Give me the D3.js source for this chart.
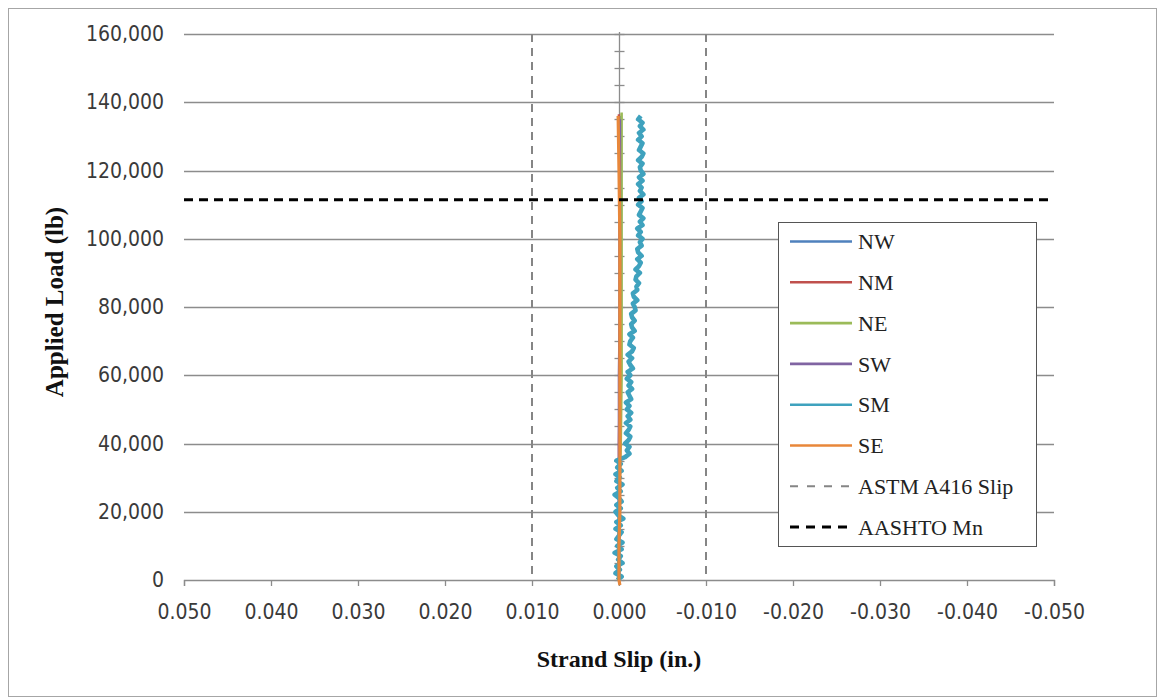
<!DOCTYPE html>
<html>
<head>
<meta charset="utf-8">
<script src="https://cdn.jsdelivr.net/npm/d3@7"></script>
<style>
  html, body { margin: 0; padding: 0; background: #fff; }
  svg { display: block; }
</style>
</head>
<body>
<svg id="chart" width="1160" height="698"></svg>
<script>
// ---------------- DATA ----------------
const seriesNames = ["NW", "NM", "NE", "SW", "SM", "SE"];
const seriesColors = ["#4F81BD", "#C0504D", "#9BBB59", "#8064A2", "#3FA2BE", "#E8873A"];

const loadNW = [0, 20000, 40000, 60000, 80000, 100000, 120000, 136000];
const slipNW = [0.0000, 0.0000, -0.0001, -0.0001, -0.0001, -0.0001, -0.0001, -0.0001];

const loadNM = [0, 20000, 40000, 60000, 80000, 100000, 120000, 136500];
const slipNM = [0.0000, 0.0000, 0.0000, -0.0001, -0.0001, -0.0001, -0.0001, 0.0000];

const loadNE = [0, 20000, 40000, 60000, 80000, 100000, 120000, 137000];
const slipNE = [0.0001, 0.0000, -0.0002, -0.0003, -0.0003, -0.0003, -0.0003, -0.0003];

const loadSW = [0, 20000, 40000, 60000, 80000, 100000, 120000, 135000];
const slipSW = [0.0000, 0.0000, 0.0000, 0.0000, -0.0001, -0.0001, -0.0001, -0.0001];

const loadSM = [
  0, 1000, 2000, 3000, 4000, 5000, 6000, 7000, 8000, 9000,
  10000, 11000, 12000, 13000, 14000, 15000, 16000, 17000, 18000, 19000,
  20000, 21000, 22000, 23000, 24000, 25000, 26000, 27000, 28000, 29000,
  30000, 31000, 32000, 33000, 34000, 35000, 36000, 37000, 38000, 39000,
  40000, 41000, 42000, 43000, 44000, 45000, 46000, 47000, 48000, 49000,
  50000, 51000, 52000, 53000, 54000, 55000, 56000, 57000, 58000, 59000,
  60000, 61000, 62000, 63000, 64000, 65000, 66000, 67000, 68000, 69000,
  70000, 71000, 72000, 73000, 74000, 75000, 76000, 77000, 78000, 79000,
  80000, 81000, 82000, 83000, 84000, 85000, 86000, 87000, 88000, 89000,
  90000, 91000, 92000, 93000, 94000, 95000, 96000, 97000, 98000, 99000,
  100000, 101000, 102000, 103000, 104000, 105000, 106000, 107000, 108000, 109000,
  110000, 111000, 112000, 113000, 114000, 115000, 116000, 117000, 118000, 119000,
  120000, 121000, 122000, 123000, 124000, 125000, 126000, 127000, 128000, 129000,
  130000, 131000, 132000, 133000, 134000, 135000, 136000];
const slipSM = [
  0.0002, -0.0003, 0.0004, -0.0001, 0.0003, -0.0004, 0.0001, -0.0002, 0.0005, -0.0003,
  0.0002, -0.0004, 0.0003, 0.0000, -0.0003, 0.0004, -0.0002, 0.0003, -0.0005, 0.0001,
  0.0004, -0.0002, 0.0003, -0.0003, 0.0000, 0.0005, -0.0002, 0.0002, -0.0004, 0.0003,
  -0.0001, 0.0004, -0.0003, 0.0002, -0.0002, 0.0003, -0.0007, -0.0012, -0.0009, -0.0012,
  -0.0007, -0.0011, -0.0013, -0.0008, -0.0011, -0.0013, -0.0008, -0.0013, -0.0010, -0.0014,
  -0.0009, -0.0012, -0.0008, -0.0014, -0.0012, -0.0010, -0.0015, -0.0011, -0.0014, -0.0009,
  -0.0013, -0.0010, -0.0016, -0.0013, -0.0011, -0.0015, -0.0010, -0.0015, -0.0017, -0.0012,
  -0.0013, -0.0016, -0.0012, -0.0018, -0.0015, -0.0014, -0.0018, -0.0015, -0.0014, -0.0019,
  -0.0018, -0.0016, -0.0021, -0.0017, -0.0016, -0.0021, -0.0020, -0.0023, -0.0019, -0.0020,
  -0.0024, -0.0019, -0.0023, -0.0025, -0.0021, -0.0026, -0.0022, -0.0021, -0.0026, -0.0024,
  -0.0027, -0.0022, -0.0025, -0.0021, -0.0027, -0.0024, -0.0028, -0.0023, -0.0025, -0.0027,
  -0.0022, -0.0026, -0.0023, -0.0028, -0.0024, -0.0026, -0.0022, -0.0027, -0.0023, -0.0028,
  -0.0025, -0.0024, -0.0027, -0.0022, -0.0026, -0.0028, -0.0023, -0.0025, -0.0027, -0.0022,
  -0.0026, -0.0023, -0.0028, -0.0024, -0.0027, -0.0022, -0.0025];

const loadSE = [-1500, 0, 10000, 20000, 30000, 40000, 60000, 80000, 100000, 120000, 136000];
const slipSE = [-0.0001, 0.0000, 0.0000, -0.0001, -0.0001, -0.0001, -0.0001, -0.0001, -0.0001, 0.0000, 0.0001];

const astmSlip = [0.010, -0.010];       // ASTM A416 slip limits (in.)
const aashtoMn = 111400;                 // AASHTO Mn load (lb)

const xTickValues = [0.05, 0.04, 0.03, 0.02, 0.01, 0.0, -0.01, -0.02, -0.03, -0.04, -0.05];
const xTickLabels = ["0.050", "0.040", "0.030", "0.020", "0.010", "0.000", "-0.010", "-0.020", "-0.030", "-0.040", "-0.050"];
const yTickValues = [0, 20000, 40000, 60000, 80000, 100000, 120000, 140000, 160000];
const yTickLabels = ["0", "20,000", "40,000", "60,000", "80,000", "100,000", "120,000", "140,000", "160,000"];
const yMinorTicks = [0, 5000, 10000, 15000, 20000, 25000, 30000, 35000, 40000, 45000, 50000, 55000,
  60000, 65000, 70000, 75000, 80000, 85000, 90000, 95000, 100000, 105000, 110000, 115000, 120000,
  125000, 130000, 135000, 140000, 145000, 150000, 155000, 160000];

const legendLabels = ["NW", "NM", "NE", "SW", "SM", "SE", "ASTM A416 Slip", "AASHTO Mn"];

// ---------------- CHART ----------------
const svg = d3.select("#chart");
const plot = { left: 184, right: 1054, top: 34, bottom: 580 };

const x = d3.scaleLinear().domain([0.05, -0.05]).range([plot.left, plot.right]);
const y = d3.scaleLinear().domain([0, 160000]).range([plot.bottom, plot.top]);

const tickFont = "'DejaVu Sans Condensed', 'DejaVu Sans', sans-serif";
const serif = "'Liberation Serif', 'Times New Roman', serif";

// outer border
svg.append("rect").attr("x", 8.5).attr("y", 8.5).attr("width", 1148).attr("height", 688)
  .attr("fill", "#fff").attr("stroke", "#a6a6a6").attr("stroke-width", 1);

// horizontal gridlines
svg.append("g").selectAll("line").data(yTickValues.filter(d => d > 0)).join("line")
  .attr("x1", plot.left).attr("x2", plot.right)
  .attr("y1", d => Math.round(y(d)) + 0.5).attr("y2", d => Math.round(y(d)) + 0.5)
  .attr("stroke", "#8c8c8c").attr("stroke-width", 1.3);

// x axis
const xAxis = svg.append("g").attr("transform", `translate(0,${plot.bottom})`)
  .call(d3.axisBottom(x).tickValues(xTickValues).tickSize(6).tickPadding(18)
    .tickFormat((d, i) => xTickLabels[i]));
xAxis.select(".domain").attr("stroke", "#8c8c8c").attr("stroke-width", 1.3);
xAxis.selectAll(".tick line").attr("stroke", "#8c8c8c").attr("stroke-width", 1.3);
xAxis.selectAll(".tick text").attr("font-family", tickFont).attr("font-stretch", "condensed")
  .attr("font-size", 21).attr("fill", "#3a3a3a");

// y axis labels (placed at left)
const yLab = svg.append("g").attr("transform", `translate(${plot.left},0)`)
  .call(d3.axisLeft(y).tickValues(yTickValues).tickSize(0).tickPadding(20)
    .tickFormat((d, i) => yTickLabels[i]));
yLab.select(".domain").remove();
yLab.selectAll(".tick text").attr("font-family", tickFont).attr("font-stretch", "condensed")
  .attr("font-size", 21).attr("fill", "#3a3a3a");

// vertical axis line at x = 0 with crossing ticks
const yAx = svg.append("g").attr("transform", `translate(${Math.round(x(0)) + 0.5},0)`);
yAx.append("line").attr("x1", 0).attr("x2", 0).attr("y1", plot.top - 2).attr("y2", plot.bottom)
  .attr("stroke", "#8c8c8c").attr("stroke-width", 1.3);
yAx.selectAll("line.minor").data(yMinorTicks).join("line").attr("class", "minor")
  .attr("x1", -5).attr("x2", 5)
  .attr("y1", d => Math.round(y(d)) + 0.5).attr("y2", d => Math.round(y(d)) + 0.5)
  .attr("stroke", "#8c8c8c").attr("stroke-width", 1.3);

// ASTM dashed vertical lines
svg.append("g").selectAll("line").data(astmSlip).join("line")
  .attr("x1", d => x(d)).attr("x2", d => x(d)).attr("y1", plot.top).attr("y2", plot.bottom)
  .attr("stroke", "#858585").attr("stroke-width", 2).attr("stroke-dasharray", "8,6");

// series
const seriesData = [
  [loadNW, slipNW], [loadNM, slipNM], [loadNE, slipNE],
  [loadSW, slipSW], [loadSM, slipSM], [loadSE, slipSE]
];
const line = d3.line().x(d => x(d[1])).y(d => y(d[0]));
seriesData.forEach((s, i) => {
  const pts = s[0].map((l, j) => [l, s[1][j]]);
  svg.append("path").datum(pts).attr("d", line)
    .attr("fill", "none").attr("stroke", seriesColors[i])
    .attr("stroke-width", i === 4 ? 4.6 : (i === 5 ? 3.2 : 2.6))
    .attr("stroke-linejoin", "round");
});

// AASHTO Mn horizontal dashed line
svg.append("line").attr("x1", plot.left).attr("x2", plot.right)
  .attr("y1", y(aashtoMn)).attr("y2", y(aashtoMn))
  .attr("stroke", "#000").attr("stroke-width", 3).attr("stroke-dasharray", "9,6");

// legend
const lg = svg.append("g");
lg.append("rect").attr("x", 778.5).attr("y", 222.5).attr("width", 258).attr("height", 324)
  .attr("fill", "#fff").attr("stroke", "#555").attr("stroke-width", 1);
const legendY0 = 241.5, legendStep = 40.8;
legendLabels.forEach((lab, i) => {
  const yy = legendY0 + i * legendStep;
  const ln = lg.append("line").attr("x1", 790).attr("x2", 852).attr("y1", yy).attr("y2", yy);
  if (i < 6) {
    ln.attr("stroke", seriesColors[i]).attr("stroke-width", 2.6);
  } else if (i === 6) {
    ln.attr("stroke", "#858585").attr("stroke-width", 2).attr("stroke-dasharray", "8,9");
  } else {
    ln.attr("stroke", "#000").attr("stroke-width", 3).attr("stroke-dasharray", "9,7");
  }
  lg.append("text").attr("x", 858).attr("y", yy).attr("dy", "0.35em")
    .attr("font-family", serif).attr("font-size", 22).attr("fill", "#222").text(lab);
});

// axis titles
svg.append("text").attr("x", x(0)).attr("y", 667).attr("text-anchor", "middle")
  .attr("font-family", serif).attr("font-weight", "bold").attr("font-size", 24).attr("fill", "#111")
  .text("Strand Slip (in.)");
svg.append("text").attr("transform", "translate(54,302) rotate(-90)").attr("text-anchor", "middle")
  .attr("dy", "0.35em")
  .attr("font-family", serif).attr("font-weight", "bold").attr("font-size", 25).attr("fill", "#111")
  .text("Applied Load (lb)");
</script>
</body>
</html>
